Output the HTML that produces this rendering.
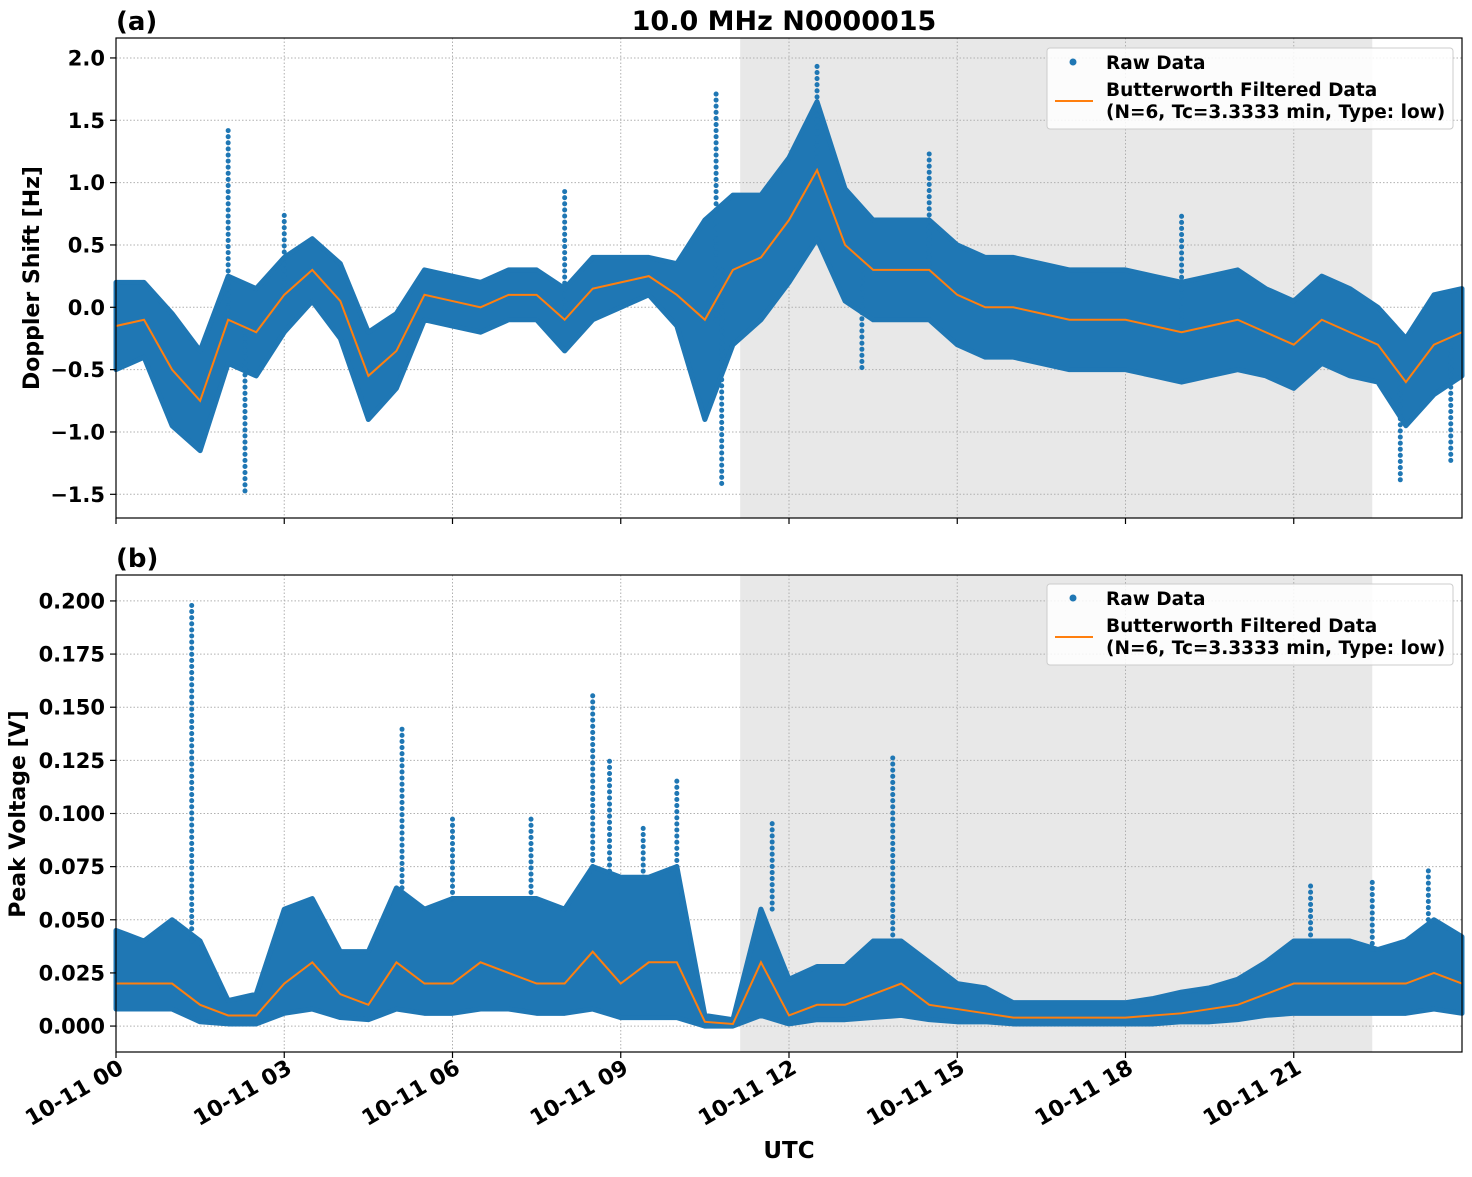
<!DOCTYPE html>
<html><head><meta charset="utf-8"><style>
body{margin:0;background:#fff;}
svg text{font-family:"DejaVu Sans","Liberation Sans",sans-serif;font-weight:bold;}
</style></head><body>
<svg id="chart" width="1472" height="1172" xmlns="http://www.w3.org/2000/svg"></svg>
<script>
const hours=[0,0.5,1,1.5,2,2.5,3,3.5,4,4.5,5,5.5,6,6.5,7,7.5,8,8.5,9,9.5,10,10.5,11,11.5,12,12.5,13,13.5,14,14.5,15,15.5,16,16.5,17,17.5,18,18.5,19,19.5,20,20.5,21,21.5,22,22.5,23,23.5,24];
const filtA=[-0.15,-0.1,-0.5,-0.75,-0.1,-0.2,0.1,0.3,0.05,-0.55,-0.35,0.1,0.05,0.0,0.1,0.1,-0.1,0.15,0.2,0.25,0.1,-0.1,0.3,0.4,0.7,1.1,0.5,0.3,0.3,0.3,0.1,0.0,0.0,-0.05,-0.1,-0.1,-0.1,-0.15,-0.2,-0.15,-0.1,-0.2,-0.3,-0.1,-0.2,-0.3,-0.6,-0.3,-0.2];
const spreadA=[0.35,0.3,0.45,0.4,0.35,0.35,0.3,0.25,0.3,0.35,0.3,0.2,0.2,0.2,0.2,0.2,0.25,0.25,0.2,0.15,0.25,0.8,0.6,0.5,0.5,0.55,0.45,0.4,0.4,0.4,0.4,0.4,0.4,0.4,0.4,0.4,0.4,0.4,0.4,0.4,0.4,0.35,0.35,0.35,0.35,0.3,0.35,0.4,0.35];
const outA_t=[2.0,2.3,3.0,8.0,10.7,10.8,12.5,14.5,19.0,13.3,22.9,23.8];
const outA_v=[1.42,-1.5,0.78,0.93,1.75,-1.45,1.97,1.23,0.75,-0.5,-1.42,-1.25];
const filtB=[0.02,0.02,0.02,0.01,0.005,0.005,0.02,0.03,0.015,0.01,0.03,0.02,0.02,0.03,0.025,0.02,0.02,0.035,0.02,0.03,0.03,0.002,0.001,0.03,0.005,0.01,0.01,0.015,0.02,0.01,0.008,0.006,0.004,0.004,0.004,0.004,0.004,0.005,0.006,0.008,0.01,0.015,0.02,0.02,0.02,0.02,0.02,0.025,0.02];
const hiB=[0.045,0.04,0.05,0.04,0.012,0.015,0.055,0.06,0.035,0.035,0.065,0.055,0.06,0.06,0.06,0.06,0.055,0.075,0.07,0.07,0.075,0.005,0.003,0.055,0.022,0.028,0.028,0.04,0.04,0.03,0.02,0.018,0.011,0.011,0.011,0.011,0.011,0.013,0.016,0.018,0.022,0.03,0.04,0.04,0.04,0.036,0.04,0.05,0.042];
const loB=[0.008,0.008,0.008,0.002,0.001,0.001,0.006,0.008,0.004,0.003,0.008,0.006,0.006,0.008,0.008,0.006,0.006,0.008,0.004,0.004,0.004,0.0,0.0,0.005,0.001,0.003,0.003,0.004,0.005,0.003,0.002,0.002,0.001,0.001,0.001,0.001,0.001,0.001,0.002,0.002,0.003,0.005,0.006,0.006,0.006,0.006,0.006,0.008,0.006];
const spkB_t=[1.35,5.1,6.0,7.4,8.5,8.8,9.4,10.0,11.7,13.85,21.3,22.4,23.4];
const spkB_v=[0.2,0.14,0.1,0.1,0.158,0.127,0.093,0.117,0.097,0.128,0.067,0.07,0.074];
const yTicksA=[-1.5,-1.0,-0.5,0.0,0.5,1.0,1.5,2.0];
const yLabA=["\u22121.5","\u22121.0","\u22120.5","0.0","0.5","1.0","1.5","2.0"];
const yTicksB=[0,0.025,0.05,0.075,0.1,0.125,0.15,0.175,0.2];
const yLabB=["0.000","0.025","0.050","0.075","0.100","0.125","0.150","0.175","0.200"];
const xTicks=[0,3,6,9,12,15,18,21];
const xLab=["10-11 00","10-11 03","10-11 06","10-11 09","10-11 12","10-11 15","10-11 18","10-11 21"];
const shade=[11.13,22.4];

const NS="http://www.w3.org/2000/svg";
const svg=document.getElementById('chart');
const L=116,R=1462;
const X=h=>L+(R-L)*h/24;
function el(tag,attrs,parent,txt){const e=document.createElementNS(NS,tag);for(const k in attrs)e.setAttribute(k,attrs[k]);if(txt!==undefined)e.textContent=txt;(parent||svg).appendChild(e);return e;}
const BLUE="#1f77b4",ORANGE="#ff7f0e";

function panel(top,bot,ymin,ymax,key){
  const Y=v=>bot-(v-ymin)/(ymax-ymin)*(bot-top);
  const g=el('g',{});
  
  
  const sh=el('rect',{x:X(shade[0]),y:top,width:X(shade[1])-X(shade[0]),height:bot-top,fill:'#e8e8e8'},g);
  
  
  return {g,Y};
}
function grid(p,top,bot,yt){
  xTicks.forEach(t=>{el('line',{x1:X(t),x2:X(t),y1:top,y2:bot,stroke:'#b0b0b0','stroke-dasharray':'1.5,2','stroke-width':1},p.g);});
  yt.forEach(t=>{el('line',{x1:L,x2:R,y1:p.Y(t),y2:p.Y(t),stroke:'#b0b0b0','stroke-dasharray':'1.5,2','stroke-width':1},p.g);});
}
function band(p,hi,lo,key){
  let d='';hours.forEach((h,i)=>{d+=(i?'L':'M')+X(h)+','+p.Y(hi[i]);});
  for(let i=hours.length-1;i>=0;i--)d+='L'+X(hours[i])+','+p.Y(lo[i]);
  const b=el('path',{d:d+'Z',fill:BLUE,stroke:BLUE,'stroke-width':5,'stroke-linejoin':'round'},p.g);
  
  
}
function spikes(p,ts,vs,base,key){
  ts.forEach((t,i)=>{
    const bi=Math.min(hours.length-1,Math.round(t*2));
    const l=el('line',{x1:X(t),x2:X(t),y1:p.Y(base[bi]),y2:p.Y(vs[i]),stroke:BLUE,'stroke-width':5,'stroke-dasharray':'0.1,6','stroke-linecap':'round'},p.g);
    
    
  });
}
function line(p,vals,key){
  let d='';hours.forEach((h,i)=>{d+=(i?'L':'M')+X(h)+','+p.Y(vals[i]);});
  const l=el('path',{d,fill:'none',stroke:ORANGE,'stroke-width':2},p.g);
  
  
}
function axes(p,top,bot,yt,yl,key,showX){
  const f=el('rect',{x:L,y:top,width:R-L,height:bot-top,fill:'none',stroke:'#000','stroke-width':1.2});
  
  
  yt.forEach((t,i)=>{
    el('line',{x1:L-6,x2:L,y1:p.Y(t),y2:p.Y(t),stroke:'#000','stroke-width':1.2});
    const tx=el('text',{x:L-11,y:p.Y(t)+7.5,'text-anchor':'end','font-size':21},svg,yl[i]);
    
    
  });
  xTicks.forEach((t,i)=>{
    el('line',{x1:X(t),x2:X(t),y1:bot,y2:bot+6,stroke:'#000','stroke-width':1.2});
    if(showX){
      const ax=X(t)+9,ay=bot+20;
      const tx=el('text',{x:ax,y:ay,'text-anchor':'end','font-size':22,transform:`rotate(-30 ${ax} ${ay})`},svg,xLab[i]);
      
      
    }
  });
}
function legend(y0,key){
  const g=el('g',{});
  
  
  el('rect',{x:1047,y:y0,width:406,height:81,rx:3,fill:'#fff','fill-opacity':0.85,stroke:'#ccc'},g);
  el('circle',{cx:1073,cy:y0+14,r:3.5,fill:BLUE},g);
  el('text',{x:1106,y:y0+21,'font-size':18.5},g,'Raw Data');
  el('line',{x1:1055,x2:1093,y1:y0+53,y2:y0+53,stroke:ORANGE,'stroke-width':2},g);
  el('text',{x:1106,y:y0+48,'font-size':18.5},g,'Butterworth Filtered Data');
  el('text',{x:1106,y:y0+70,'font-size':18.5},g,'(N=6, Tc=3.3333 min, Type: low)');
}

const aT=38,aB=518;
const pa=panel(aT,aB,-1.69,2.16,'a');
grid(pa,aT,aB,yTicksA);
band(pa,filtA.map((v,i)=>v+spreadA[i]),filtA.map((v,i)=>v-spreadA[i]),'a');
spikes(pa,outA_t,outA_v,filtA,'a');
line(pa,filtA,'a');
axes(pa,aT,aB,yTicksA,yLabA,'a',false);
legend(48,'a');

const bT=575,bB=1052;
const pb=panel(bT,bB,-0.0122,0.2122,'b');
grid(pb,bT,bB,yTicksB);
band(pb,hiB,loB,'b');
spikes(pb,spkB_t,spkB_v,hiB,'b');
line(pb,filtB,'b');
axes(pb,bT,bB,yTicksB,yLabB,'b',true);
legend(584,'b');

let t;
t=el('text',{x:784,y:30,'text-anchor':'middle','font-size':27},svg,'10.0 MHz N0000015');

t=el('text',{x:116,y:30,'font-size':26},svg,'(a)');

t=el('text',{x:116,y:567,'font-size':26},svg,'(b)');

t=el('text',{x:789,y:1158,'text-anchor':'middle','font-size':23},svg,'UTC');

t=el('text',{x:39,y:278,'text-anchor':'middle','font-size':22,transform:'rotate(-90 39 278)'},svg,'Doppler Shift [Hz]');

t=el('text',{x:25,y:814,'text-anchor':'middle','font-size':22,transform:'rotate(-90 25 814)'},svg,'Peak Voltage [V]');

</script>
</body></html>
